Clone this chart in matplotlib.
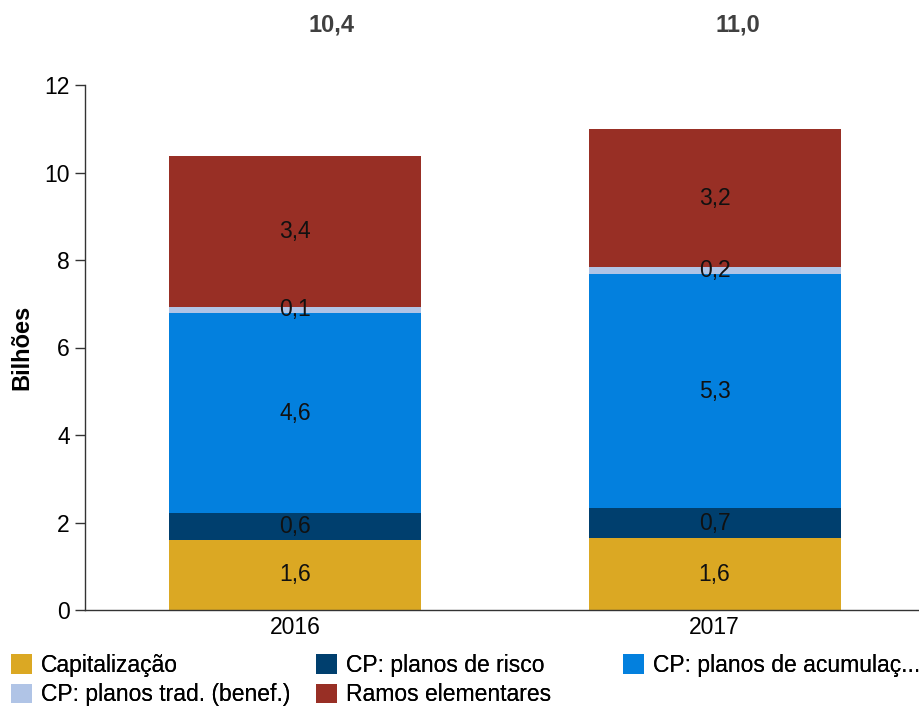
import matplotlib
matplotlib.use("Agg")
import matplotlib.pyplot as plt
from matplotlib.patches import Patch
import numpy as np

plt.rcParams['font.family'] = ['Liberation Sans', 'DejaVu Sans']

years = ["2016", "2017"]
series_names = ["Capitalização", "CP: planos de risco", "CP: planos de acumulaç...",
                "CP: planos trad. (benef.)", "Ramos elementares"]
capitalizacao = [1.60, 1.64]
planos_risco = [0.61, 0.69]
planos_acumulacao = [4.58, 5.34]
planos_trad = [0.14, 0.16]
ramos_elementares = [3.44, 3.17]
totals_labels = ["10,4", "11,0"]
yticks = [0, 2, 4, 6, 8, 10, 12]

colors = ["#DBA823", "#003F6E", "#0380DE", "#B0C4E6", "#982F25"]
series = [capitalizacao, planos_risco, planos_acumulacao, planos_trad, ramos_elementares]

fig = plt.figure(figsize=(9.19, 7.08), dpi=100)
ax = fig.add_axes([85/919, 1 - 610/708, 834/919, 525/708])

x = np.arange(len(years))
bottom = np.zeros(len(years))
for vals, col in zip(series, colors):
    vals = np.array(vals)
    ax.bar(x, vals, 0.6, bottom=bottom, color=col, linewidth=0)
    for xi, b, v in zip(x, bottom, vals):
        ax.text(xi, b + v / 2, f"{v:.1f}".replace(".", ","), ha="center", va="center",
                fontsize=16.5, color="#111111")
    bottom = bottom + vals

# totals, placed above the plot (slightly right of bar centres, as in the source)
total_x_fig = [331.5/919, 738/919]
for xf, lab in zip(total_x_fig, totals_labels):
    fig.text(xf, 1 - 25/708, lab, ha="center", va="center",
             fontsize=17, fontweight="bold", color="#404040")

ax.set_xlim(-0.5, 1.487)
ax.set_ylim(0, 12)
ax.set_yticks(yticks)
ax.set_yticklabels([str(t) for t in yticks], fontsize=16.5)
ax.set_xticks(x)
ax.set_xticklabels(years, fontsize=16.5)
ax.tick_params(axis="x", length=0, pad=4)
ax.tick_params(axis="y", length=7, width=1, color="#333333", pad=4)
for s in ["top", "right"]:
    ax.spines[s].set_visible(False)
for s in ["left", "bottom"]:
    ax.spines[s].set_color("#333333")
    ax.spines[s].set_linewidth(1)
ax.set_ylabel("Bilhões", fontsize=17, fontweight="bold", labelpad=8)

# legend in three columns at fixed positions
cols = [[0, 3], [1, 4], [2]]
xs = [11/919, 316/919, 623/919]
for xpos, idxs in zip(xs, cols):
    handles = [Patch(facecolor=colors[i], edgecolor="none") for i in idxs]
    labels = [series_names[i] for i in idxs]
    leg = fig.legend(handles, labels, loc="upper left", bbox_to_anchor=(xpos, 1 - 654/708),
                     frameon=False, fontsize=16.5, handlelength=0.92, handleheight=0.92,
                     handletextpad=0.4, labelspacing=0.28, borderaxespad=0, borderpad=0)
    fig.add_artist(leg)

fig.savefig("out.png", dpi=100)
